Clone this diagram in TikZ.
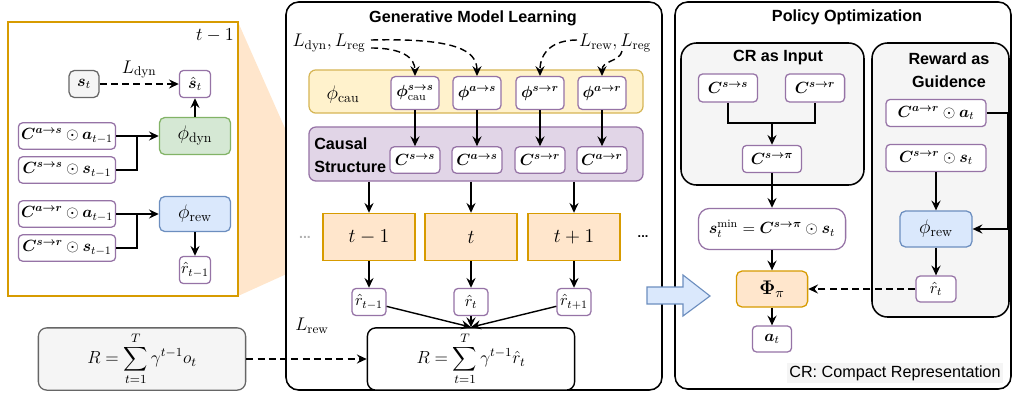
\documentclass[tikz,border=0pt]{standalone}
\usepackage{fix-cm}
\usepackage{fontspec}
\setsansfont{Liberation Sans}
\usepackage{amsmath,bm}
\usetikzlibrary{arrows.meta}

\definecolor{purpline}{HTML}{9673A6}
\definecolor{purpfill}{HTML}{E1D5E7}
\definecolor{yellline}{HTML}{D6B656}
\definecolor{yellfill}{HTML}{FFF2CC}
\definecolor{orline}{HTML}{D79B00}
\definecolor{orfill}{HTML}{FFE6CC}
\definecolor{grline}{HTML}{82B366}
\definecolor{grfill}{HTML}{D5E8D4}
\definecolor{blline}{HTML}{6C8EBF}
\definecolor{blfill}{HTML}{DAE8FC}
\definecolor{gyline}{HTML}{666666}
\definecolor{gyfill}{HTML}{F5F5F5}

\newcommand{\cmap}[2]{\bm{C}^{\bm{#1\to#2}}}

\begin{document}
\begin{tikzpicture}[
			x = 0.025cm, y = -0.025cm,
			every node/.style = {font=\fontsize{11.5}{14}\selectfont},
			big/.style = {font=\fontsize{14}{17}\selectfont},
			lbl/.style = {font=\fontsize{13}{16}\selectfont},
			ttl/.style = {font=\fontsize{11.5}{16.3}\selectfont\sffamily\bfseries},
			arr/.style = {line width=1pt, -{Stealth[length=7pt,width=6.5pt,inset=2.5pt]}},
			dsh/.style = {arr, dash pattern=on 5pt off 3pt},
			cbox/.style = {draw=purpline, fill=white, line width=0.9pt, rounded corners=3pt, inner sep=1pt, minimum height=0.66cm},
			gbox/.style = {draw=gyline, fill=gyfill, line width=0.9pt, rounded corners=4pt},
			grn/.style = {draw=grline, fill=grfill, line width=0.9pt, rounded corners=4pt},
			blu/.style = {draw=blline, fill=blfill, line width=0.9pt, rounded corners=4pt},
			org/.style = {draw=orline, fill=orfill, line width=0.9pt},
			panel/.style = {draw, line width=1.1pt, rounded corners=9pt}
		]

		\useasboundingbox (0,0) rectangle (1013,396);

		\fill[orfill] (238,22) -- (322,212) -- (322,258) -- (238,296) -- cycle;
		\draw[panel, fill=white] (286,2) rectangle (662,390);
		\draw[panel, fill=white] (675,2) rectangle (1011,389);
		\draw[orline, line width=1pt, fill=white] (8,22) rectangle (238,296);
		\draw[panel, fill=gyfill, rounded corners=11pt] (681,43) rectangle (864,185);
		\draw[panel, fill=gyfill, rounded corners=11pt] (872,43) rectangle (1009,317);

		\node[lbl] (tlbl) at (215,35) {$t-1$};
		\node[gbox, minimum width=0.75cm, minimum height=0.68cm] (st) at (84,84) {$\bm{s}_t$};
		\node[cbox, minimum width=0.78cm, minimum height=0.68cm] (shat) at (195,84) {$\hat{\bm{s}}_t$};
		\node[grn, big, minimum width=1.78cm, minimum height=0.93cm] (phidyn) at (195,136) {$\phi_{\mathrm{dyn}}$};
		\node[blu, big, minimum width=1.78cm, minimum height=0.88cm] (phirewl) at (195,214) {$\phi_{\mathrm{rew}}$};
		\node[cbox, minimum width=0.78cm, minimum height=0.68cm] (rhatl) at (195,270) {$\hat{r}_{t-1}$};

		\foreach \n/\y/\sa/\sb/\sx in {cas/136/a/s/a, css/170/s/s/s, car/214/a/r/a, csr/248/s/r/s}{
			\node[cbox, minimum width=2.43cm] (\n) at (67,\y) {$\cmap{\sa}{\sb}\odot\bm{\sx}_{t-1}$};
		}

		\coordinate (jdyn) at (137,136);
		\coordinate (jrew) at (137,214);

		\draw[dsh] (st) -- node[above, lbl] (ldyn) {$L_{\mathrm{dyn}}$} (shat);
		\draw[arr] (phidyn) -- (shat);
		\draw[arr] (cas) -- (phidyn);
		\draw[line width=1pt] (css.east) -| (jdyn);
		\draw[arr] (car) -- (phirewl);
		\draw[line width=1pt] (csr.east) -| (jrew);
		\draw[arr] (phirewl) -- (rhatl);

		\node[ttl] (title1) at (473,18) {Generative Model Learning};
		\node[lbl] (lossa) at (329,43) {$L_{\mathrm{dyn}}, L_{\mathrm{reg}}$};
		\node[lbl] (lossb) at (615,43) {$L_{\mathrm{rew}}, L_{\mathrm{reg}}$};

		\node[draw=yellline, fill=yellfill, line width=0.9pt, rounded corners=5pt, minimum width=8.35cm, minimum height=1.08cm] (cauband) at (476,91.5) {};
		\node[draw=purpline, fill=purpfill, line width=0.9pt, rounded corners=5pt, minimum width=8.35cm, minimum height=1.35cm] (struct) at (476,154) {};
		\node[big] (caulbl) at (343,95) {$\phi_{\mathrm{cau}}$};
		\node[ttl, align=left, anchor=west, inner sep=0pt] (structlbl) at (314,155) {Causal\\Structure};

		\node[cbox, minimum width=1.2cm, minimum height=0.82cm] (pss) at (415,93) {$\bm{\phi}^{\bm{s\to s}}_{\mathrm{cau}}$};
		\foreach \n/\x/\sa/\sb in {as/477/a/s, sr/540/s/r, ar/602/a/r}{
			\node[cbox, minimum width=1.2cm, minimum height=0.82cm] (p\n) at (\x,93) {$\bm{\phi}^{\bm{\sa\to\sb}}$};
		}
		\foreach \n/\x/\sa/\sb in {ss/415/s/s, as/477/a/s, sr/540/s/r, ar/602/a/r}{
			\node[cbox, minimum width=1.25cm] (c\n) at (\x,160) {$\cmap{\sa}{\sb}$};
			\draw[arr] (p\n) -- (c\n);
		}

		\coordinate (la1) at (371,40);
		\coordinate (la2) at (371,48);
		\coordinate (lb1) at (577,40);
		\coordinate (lb2) at (622,51);

		\draw[dsh] (la1) .. controls (455,38) and (477,50) .. (pas.north);
		\draw[dsh] (la2) .. controls (403,48) and (415,58) .. (pss.north);
		\draw[dsh] (lb1) .. controls (553,40) and (540,52) .. (psr.north);
		\draw[dsh] (lb2) .. controls (620,62) and (602,60) .. (par.north);

		\node[rounded corners=6pt, draw, line width=1pt, fill=white, minimum width=5.18cm, minimum height=1.25cm, font=\fontsize{12.5}{15}\selectfont] (rsum) at (471,359) {$\displaystyle R=\sum_{t=1}^{T}\gamma^{t-1}\hat{r}_t$};
		\node[gbox, rounded corners=6pt, minimum width=5.18cm, minimum height=1.3cm, font=\fontsize{12.5}{15}\selectfont] (rleft) at (142,359) {$\displaystyle R=\sum_{t=1}^{T}\gamma^{t-1}o_t$};
		\node[lbl] (lrew) at (312,326) {$L_{\mathrm{rew}}$};

		\foreach \n/\x/\lab in {tm1/369/t-1, tt/471/t, tp1/574/t+1}{
			\node[org, big, minimum width=2.3cm, minimum height=1.18cm] (\n) at (\x,237) {$\lab$};
			\node[cbox, minimum width=0.85cm, minimum height=0.68cm] (r\n) at (\x,302) {$\hat{r}_{\lab}$};
			\draw[arr] (\n.north |- struct.south) -- (\n);
			\draw[arr] (\n) -- (r\n);
			\draw[arr] (r\n) -- (rsum.north);
		}
		\node[text=gray!60, font=\fontsize{10}{12}\selectfont\sffamily\bfseries] (dotsl) at (305,237) {...};
		\node[font=\fontsize{9}{12}\selectfont\sffamily\bfseries] (dotsr) at (643,237) {...};

		\draw[dsh] (rleft) -- (rsum);

		\node[ttl] (title2) at (847,17) {Policy Optimization};
		\node[ttl] (crlbl) at (778,58) {CR as Input};
		\node[ttl, align=center] (rglbl) at (949,70) {Reward as\\Guidence};

		\node[cbox, minimum width=1.48cm, minimum height=0.7cm] (crss) at (728,88) {$\cmap{s}{s}$};
		\node[cbox, minimum width=1.48cm, minimum height=0.7cm] (crsr) at (815,88) {$\cmap{s}{r}$};
		\node[cbox, minimum width=1.48cm, minimum height=0.68cm] (crpi) at (772,159) {$\cmap{s}{\pi}$};
		\node[cbox, rounded corners=8pt, minimum width=3.68cm, minimum height=1.03cm] (smin) at (772,229) {$\bm{s}_t^{\min}=\cmap{s}{\pi}\odot\bm{s}_t$};
		\node[org, big, rounded corners=4pt, minimum width=1.78cm, minimum height=0.9cm] (phipi) at (772,289) {$\bm{\Phi}_{\pi}$};
		\node[cbox, minimum width=0.98cm, minimum height=0.65cm] (at) at (772,339) {$\bm{a}_t$};

		\node[cbox, minimum width=2.5cm, minimum height=0.68cm] (gar) at (936,113) {$\cmap{a}{r}\odot\bm{a}_t$};
		\node[cbox, minimum width=2.5cm, minimum height=0.68cm] (gsr) at (936,158) {$\cmap{s}{r}\odot\bm{s}_t$};
		\node[blu, big, minimum width=1.8cm, minimum height=0.9cm] (phirewr) at (936,229) {$\phi_{\mathrm{rew}}$};
		\node[cbox, minimum width=1.0cm, minimum height=0.65cm] (rhatr) at (936,289) {$\hat{r}_t$};

		\coordinate (jcr) at (772,123);

		\draw[line width=1pt] (crss.south) |- (jcr) -| (crsr.south);
		\draw[arr] (jcr) -- (crpi);
		\draw[arr] (crpi) -- (smin);
		\draw[arr] (smin) -- (phipi);
		\draw[arr] (phipi) -- (at);
		\draw[arr] (gar.east) -- ++(21,0) |- (phirewr.east);
		\draw[arr] (gsr) -- (phirewr);
		\draw[arr] (phirewr) -- (rhatr);
		\draw[dsh] (rhatr) -- (phipi);

		\node[fill=gyfill, inner sep=1.5pt, font=\fontsize{11.5}{14}\selectfont\sffamily] (crnote) at (895,373) {CR: Compact Representation};

		\draw[blline, fill=blfill, line width=0.8pt] (647,287) -- (683,287) -- (683,275) -- (710,296) -- (683,316) -- (683,304) -- (647,304) -- cycle;

		\end{tikzpicture}
\end{document}
